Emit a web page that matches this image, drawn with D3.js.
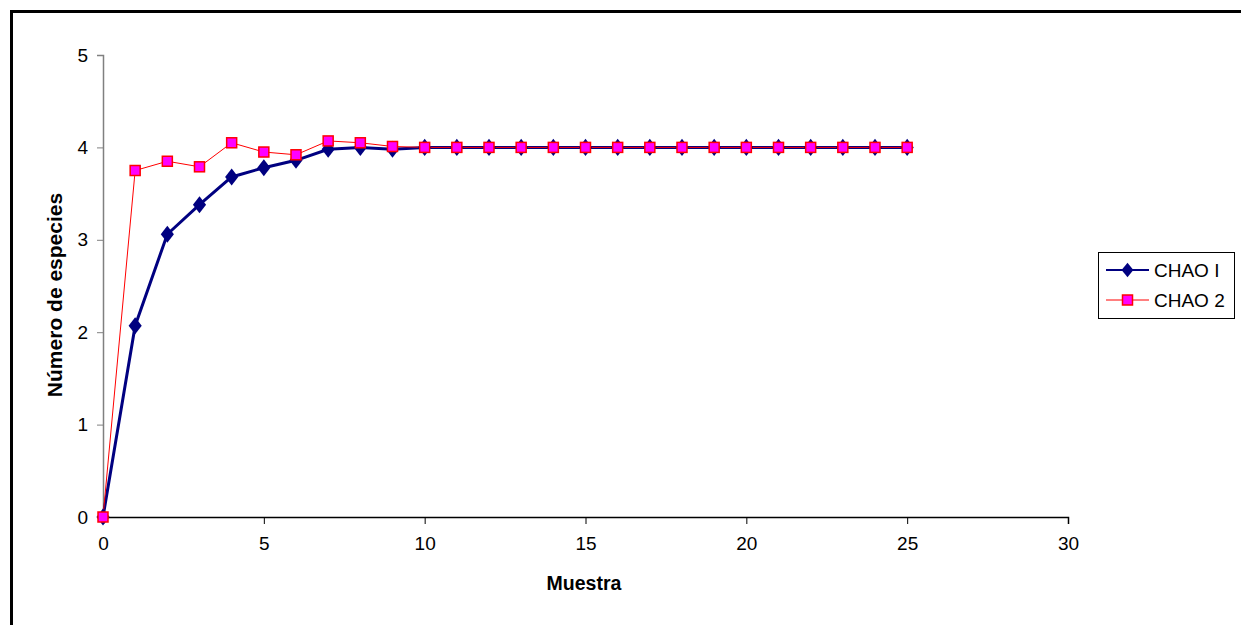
<!DOCTYPE html>
<html>
<head>
<meta charset="utf-8">
<script src="https://cdn.jsdelivr.net/npm/d3@7"></script>
<style>
  body { margin: 0; background: #fff; }
  text { font-family: "Liberation Sans", Arial, sans-serif; }
</style>
</head>
<body>
<div id="chart"></div>
<script>
// data
var muestra = [0,1,2,3,4,5,6,7,8,9,10,11,12,13,14,15,16,17,18,19,20,21,22,23,24,25];
var chao1 = [0,2.07,3.06,3.38,3.68,3.78,3.86,3.98,4.0,3.98,4,4,4,4,4,4,4,4,4,4,4,4,4,4,4,4];
var chao2 = [0,3.75,3.85,3.79,4.05,3.95,3.92,4.07,4.05,4.01,4,4,4,4,4,4,4,4,4,4,4,4,4,4,4,4];
var xTicks = [0,5,10,15,20,25,30];
var yTicks = [0,1,2,3,4,5];
var seriesNames = ["CHAO I", "CHAO 2"];

var svgWidth = 1241, svgHeight = 625;
var margin = {top: 55, left: 103};
var width = 1068 - 103;
var height = 517 - 55;

var svg = d3.select("#chart").append("svg")
    .attr("width", svgWidth)
    .attr("height", svgHeight);

// outer frame (runs off the right and bottom edge)
svg.append("rect")
    .attr("x", 11.5).attr("y", 11.5)
    .attr("width", svgWidth + 10).attr("height", svgHeight + 10)
    .attr("fill", "none").attr("stroke", "#000").attr("stroke-width", 3);

var chart = svg.append("g")
    .attr("transform", "translate(" + margin.left + "," + margin.top + ")");

var x = d3.scaleLinear().domain([0, 30]).range([0, width]);
var y = d3.scaleLinear().domain([0, 5]).range([height, 0]);

var xAxis = chart.append("g")
    .attr("transform", "translate(0," + height + ")")
    .call(d3.axisBottom(x).tickValues(xTicks).tickFormat(d3.format("d")).tickSize(7).tickPadding(13));
xAxis.select(".domain").attr("stroke", "#000").attr("stroke-width", 1.5);
xAxis.selectAll(".tick line").attr("stroke", "#000");
xAxis.selectAll("text").attr("font-size", 19).attr("fill", "#000")
    .style("font-family", "'Liberation Sans', Arial, sans-serif");

var yAxis = chart.append("g")
    .call(d3.axisLeft(y).tickValues(yTicks).tickFormat(d3.format("d")).tickSize(6).tickPadding(9));
yAxis.select(".domain").attr("stroke", "#808080").attr("stroke-width", 1.5);
yAxis.selectAll(".tick line").attr("stroke", "#808080");
yAxis.selectAll("text").attr("font-size", 19).attr("fill", "#000")
    .style("font-family", "'Liberation Sans', Arial, sans-serif");

// series
var line = d3.line()
    .x(function(d, i) { return x(muestra[i]); })
    .y(function(d) { return y(d); });

chart.append("path").datum(chao1)
    .attr("d", line)
    .attr("fill", "none")
    .attr("stroke", "#000080")
    .attr("stroke-width", 3);

chart.append("path").datum(chao2)
    .attr("d", line)
    .attr("fill", "none")
    .attr("stroke", "#ff0000")
    .attr("stroke-width", 1);

var diamond = d3.symbol().type(d3.symbolDiamond2).size(110);

chart.selectAll(".d1").data(chao1).enter()
    .append("path")
    .attr("class", "d1")
    .attr("d", diamond)
    .attr("transform", function(d, i) { return "translate(" + x(muestra[i]) + "," + y(d) + ") scale(1,1.3)"; })
    .attr("fill", "#000080");

chart.selectAll(".s2").data(chao2).enter()
    .append("rect")
    .attr("class", "s2")
    .attr("x", function(d, i) { return x(muestra[i]) - 5; })
    .attr("y", function(d) { return y(d) - 5; })
    .attr("width", 10).attr("height", 10)
    .attr("fill", "#ff00ff")
    .attr("stroke", "#ff0000")
    .attr("stroke-width", 1.5);

// axis titles
svg.append("text")
    .attr("x", 584).attr("y", 590)
    .attr("text-anchor", "middle")
    .attr("font-size", 19.5).attr("font-weight", "bold")
    .text("Muestra");

svg.append("text")
    .attr("transform", "translate(62,295) rotate(-90)")
    .attr("text-anchor", "middle")
    .attr("font-size", 21).attr("font-weight", "bold")
    .text("Número de especies");

// legend
var legend = svg.append("g");
legend.append("rect")
    .attr("x", 1098.5).attr("y", 252.5)
    .attr("width", 136).attr("height", 66)
    .attr("fill", "#fff").attr("stroke", "#000").attr("stroke-width", 1);

var legY = [270, 300];
seriesNames.forEach(function(name, i) {
    legend.append("line")
        .attr("x1", 1106).attr("x2", 1149)
        .attr("y1", legY[i]).attr("y2", legY[i])
        .attr("stroke", i === 0 ? "#000080" : "#ff0000")
        .attr("stroke-width", i === 0 ? 2 : 1);
    if (i === 0) {
        legend.append("path")
            .attr("d", diamond)
            .attr("transform", "translate(1127.5," + legY[i] + ") scale(0.9,1.1)")
            .attr("fill", "#000080");
    } else {
        legend.append("rect")
            .attr("x", 1122.5).attr("y", legY[i] - 5)
            .attr("width", 10).attr("height", 10)
            .attr("fill", "#ff00ff").attr("stroke", "#ff0000").attr("stroke-width", 1.5);
    }
    legend.append("text")
        .attr("x", 1154).attr("y", legY[i])
        .attr("dy", "0.36em")
        .attr("font-size", 19)
        .text(name);
});
</script>
</body>
</html>
